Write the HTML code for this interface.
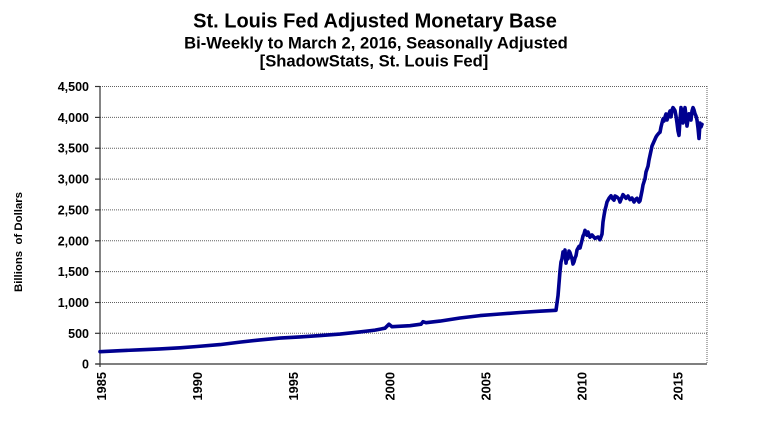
<!DOCTYPE html>
<html>
<head>
<meta charset="utf-8">
<style>
  html, body { margin:0; padding:0; background:#fff; }
  svg { display:block; }
  text { font-family: "Liberation Sans", Arial, sans-serif; fill:#000; }
</style>
</head>
<body>
<svg width="781" height="434" viewBox="0 0 781 434" xmlns="http://www.w3.org/2000/svg">
  <rect x="0" y="0" width="781" height="434" fill="#fff"/>

  <!-- Titles -->
  <text x="375" y="27.7" font-size="20" font-weight="bold" text-anchor="middle">St. Louis Fed Adjusted Monetary Base</text>
  <text x="376" y="48.3" font-size="16.6" font-weight="bold" text-anchor="middle">Bi-Weekly to March 2, 2016, Seasonally Adjusted</text>
  <text x="374" y="66.5" font-size="16.6" font-weight="bold" text-anchor="middle">[ShadowStats, St. Louis Fed]</text>

  <!-- Gridlines -->
  <g stroke="#606060" stroke-width="1" stroke-dasharray="1,1">
    <line x1="100" y1="86.5" x2="707" y2="86.5"/>
    <line x1="100" y1="117.4" x2="707" y2="117.4"/>
    <line x1="100" y1="148.2" x2="707" y2="148.2"/>
    <line x1="100" y1="179.1" x2="707" y2="179.1"/>
    <line x1="100" y1="209.9" x2="707" y2="209.9"/>
    <line x1="100" y1="240.8" x2="707" y2="240.8"/>
    <line x1="100" y1="271.6" x2="707" y2="271.6"/>
    <line x1="100" y1="302.5" x2="707" y2="302.5"/>
    <line x1="100" y1="333.3" x2="707" y2="333.3"/>
    <line x1="707" y1="86" x2="707" y2="364"/>
  </g>

  <!-- Axes -->
  <g stroke="#333" stroke-width="1.2">
    <line x1="100" y1="86" x2="100" y2="367"/>
    <line x1="96" y1="364" x2="707" y2="364"/>
    <line x1="95" y1="86.5" x2="100" y2="86.5"/>
    <line x1="95" y1="117.4" x2="100" y2="117.4"/>
    <line x1="95" y1="148.2" x2="100" y2="148.2"/>
    <line x1="95" y1="179.1" x2="100" y2="179.1"/>
    <line x1="95" y1="209.9" x2="100" y2="209.9"/>
    <line x1="95" y1="240.8" x2="100" y2="240.8"/>
    <line x1="95" y1="271.6" x2="100" y2="271.6"/>
    <line x1="95" y1="302.5" x2="100" y2="302.5"/>
    <line x1="95" y1="333.3" x2="100" y2="333.3"/>
    <line x1="95" y1="364" x2="100" y2="364"/>
  </g>

  <!-- Y tick labels -->
  <g font-size="12.5" font-weight="bold" text-anchor="end">
    <text x="89" y="91">4,500</text>
    <text x="89" y="121.9">4,000</text>
    <text x="89" y="152.7">3,500</text>
    <text x="89" y="183.6">3,000</text>
    <text x="89" y="214.4">2,500</text>
    <text x="89" y="245.3">2,000</text>
    <text x="89" y="276.1">1,500</text>
    <text x="89" y="307">1,000</text>
    <text x="89" y="337.8">500</text>
    <text x="89" y="368.5">0</text>
  </g>

  <!-- Y axis title -->
  <text transform="translate(22,242) rotate(-90)" font-size="11.4" font-weight="bold" text-anchor="middle" xml:space="preserve">Billions  of Dollars</text>

  <!-- X tick labels -->
  <g font-size="12.8" font-weight="bold" text-anchor="end">
    <text transform="translate(106,372) rotate(-90)">1985</text>
    <text transform="translate(202.1,372) rotate(-90)">1990</text>
    <text transform="translate(298.2,372) rotate(-90)">1995</text>
    <text transform="translate(394.3,372) rotate(-90)">2000</text>
    <text transform="translate(490.4,372) rotate(-90)">2005</text>
    <text transform="translate(586.5,372) rotate(-90)">2010</text>
    <text transform="translate(682.6,372) rotate(-90)">2015</text>
  </g>

  <!-- Data series -->
  <polyline fill="none" stroke="#000090" stroke-width="3.6" stroke-linejoin="round" stroke-linecap="round"
    points="100,351.7 120,350.7 140,349.8 160,348.9 180,347.8 197,346.5 220,344.6 240,342.1 260,339.9 280,338.1 300,336.9 320,335.6 340,334.1 360,331.9 375,330.1 385,328.2 389,324.2 392,326.7 410,325.7 421,324.2 423,321.7 426,322.7 440,321.1 460,318.0 480,315.6 500,314.0 520,312.5 540,311.2 556,310.3 558,295.8 560,271.1 561,262 562,258.8 563,252 564,255.7 565,250 566,263.1 567,256 568,258.8 569,251 570,252.6 571,256 572,258.8 573,264 574,261.9 575,258 576,255.7 577,250 579,246.4 580,248 582,240.3 583,236 584,234.1 585,230.4 586,233 587,235.3 588,232 590,237.2 592,235 595,238.4 598,237 600,239.7 602,234.1 603,222 604,215.6 605,210 606,206.3 607,202 609,198.3 611,195.8 612,198 614,200.2 615,196 617,197.1 619,199 620,202.0 622,197 623,194.6 625,197 626,198.3 628,196 630,199.6 632,198 634,202.0 636,199 637,198.3 639,202 640,200.8 642,190.9 643,185 645,178.6 646,172 648,166.2 649,160 651,150.8 652,146 654,141.5 656,137 657,135.4 659,133 660,132.3 661,127 662,123.0 663,119 664,121 665,116.9 666,114 667,120.0 668,117 669,113.8 670,111 671,116.9 672,110 673,107.6 674,109 675,110.7 676,116 677,123.0 678,131 679,135.4 680,120 681,107.6 682,113 683,123.0 684,112 685,107.6 686,116 687,126.1 688,119 689,113.8 690,117 691,120.0 692,111 693,107.6 694,110 695,113.8 696,116 697,120.0 698,128 699,138.5 700,123.0 701,127 702,124.3"/>
</svg>
</body>
</html>
